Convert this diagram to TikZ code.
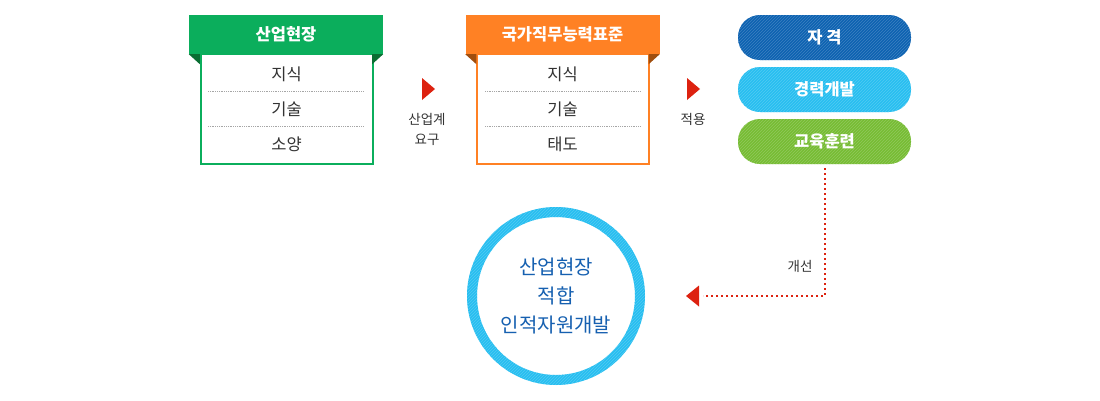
\documentclass[tikz,border=0pt]{standalone}
\usepackage{fontspec}
\setmainfont{Noto Sans CJK KR}
\usetikzlibrary{calc,patterns}
\definecolor{hgreen}{HTML}{0BAE5C}
\definecolor{hgreendk}{HTML}{0A6E33}
\definecolor{horange}{HTML}{FF8124}
\definecolor{horangedk}{HTML}{A04E0E}
\definecolor{pblue}{HTML}{0D62B1}
\definecolor{plight}{HTML}{27BEF0}
\definecolor{pgreen}{HTML}{76BC33}
\definecolor{tblue}{HTML}{1660B0}
\definecolor{ared}{HTML}{DD2210}
\definecolor{txt}{HTML}{333333}
\tikzset{
  hdr/.style={minimum width=194pt, minimum height=39pt, inner sep=0pt, text=white, font=\fontsize{16.5}{18}\selectfont\bfseries},
  bodybox/.style={draw=#1, line width=2pt, minimum width=172pt, minimum height=110pt, inner sep=0pt, fill=white},
  item/.style={text=txt, font=\fontsize{16.5}{18}\selectfont},
  sep/.style={draw=gray!70, densely dotted, line width=0.8pt},
  pill/.style={fill=#1, rounded corners=22pt, minimum width=173pt, minimum height=45pt, inner sep=0pt, text=white, font=\fontsize{16.5}{18}\selectfont\bfseries,
    postaction={pattern=north east lines, pattern color=white!20!#1}},
  ring/.style={fill=plight, even odd rule, postaction={pattern=north east lines, pattern color=white!20!plight}},
  small/.style={text=txt, font=\fontsize{13.5}{20}\selectfont, align=center},
  tri/.style={fill=ared},
  redline/.style={draw=ared, line width=1.6pt, dash pattern=on 1.8pt off 3.2pt},
}
\begin{document}
\begin{tikzpicture}[x=1pt,y=-1pt]
\useasboundingbox (0,0) rectangle (1100,400);
% green box
\node[bodybox=hgreen] (gb) at (286.5,109) {};
\node[hdr, fill=hgreen] (gh) at (286,34.5) {산업현장};
\fill[hgreendk] (gh.south west) -- ++(11,0) -- ++(0,10) -- cycle;
\fill[hgreendk] (gh.south east) -- ++(-11,0) -- ++(0,10) -- cycle;
\node[item] (g1) at (286.5,74) {지식};
\node[item] (g2) at (286.5,109) {기술};
\node[item] (g3) at (286.5,144) {소양};
\draw[sep] (208,91.5) -- (364,91.5);
\draw[sep] (208,126.5) -- (364,126.5);
% orange box
\node[bodybox=horange] (ob) at (562.5,108.5) {};
\node[hdr, fill=horange] (oh) at (562.5,34.5) {국가직무능력표준};
\fill[horangedk] (oh.south west) -- ++(11,0) -- ++(0,10) -- cycle;
\fill[horangedk] (oh.south east) -- ++(-11,0) -- ++(0,10) -- cycle;
\node[item] (o1) at (562.5,74) {지식};
\node[item] (o2) at (562.5,109) {기술};
\node[item] (o3) at (562.5,144) {태도};
\draw[sep] (485,91.5) -- (640,91.5);
\draw[sep] (485,126.5) -- (640,126.5);
% arrows
\coordinate (a1) at (422,78);
\fill[tri] (a1) -- ++(13,11) -- ++(-13,11) -- cycle;
\node[small] (t1) at (427,129) {산업계\\요구};
\coordinate (a2) at (687,78);
\fill[tri] (a2) -- ++(13,11) -- ++(-13,11) -- cycle;
\node[small] (t2) at (693,119) {적용};
% pills
\node[pill=pblue] (p1) at (824.5,37.5) {자 격};
\node[pill=plight] (p2) at (824.5,89.5) {경력개발};
\node[pill=pgreen] (p3) at (824.5,141.5) {교육훈련};
% circle
\coordinate (cc) at (556,296);
\fill[ring] (cc) circle[radius=89pt] (cc) circle[radius=79pt];
\node[circle, minimum size=178pt, inner sep=0pt] (c) at (cc) {};
\node[text=tblue, font=\fontsize{20}{29}\selectfont, align=center] (ct) at (cc) {산업현장\\적합\\인적자원개발};
% dotted connector
\coordinate (d1) at (825,168);
\coordinate (d2) at (825,296);
\coordinate (d3) at (703,296);
\draw[redline] (d1) -- (d2) -- (d3);
\fill[tri] (699,285.5) -- (686,296) -- (699,306.5) -- cycle;
\node[small] (t3) at (800,266) {개선};
\end{tikzpicture}
\end{document}
